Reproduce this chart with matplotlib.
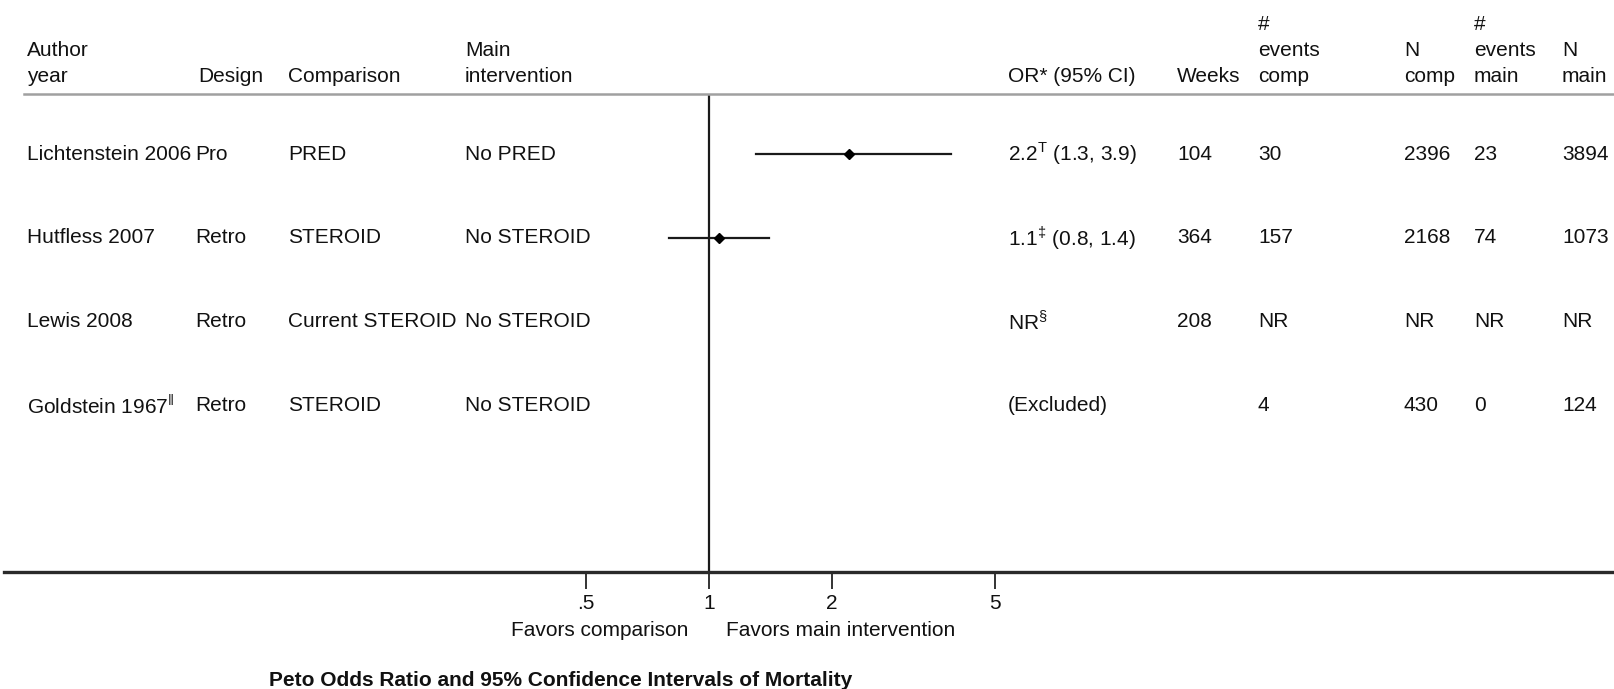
import numpy as np
import matplotlib.pyplot as plt
from matplotlib.transforms import blended_transform_factory
from matplotlib.lines import Line2D

plt.rcParams['font.family'] = ['Liberation Sans', 'DejaVu Sans']
plt.rcParams['mathtext.fontset'] = 'custom'
plt.rcParams['mathtext.rm'] = 'Liberation Sans'

# study table
authors = ["Lichtenstein 2006", "Hutfless 2007", "Lewis 2008", r"Goldstein 1967$^{\Vert}$"]
designs = ["Pro", "Retro", "Retro", "Retro"]
comparisons = ["PRED", "STEROID", "Current STEROID", "STEROID"]
mains = ["No PRED", "No STEROID", "No STEROID", "No STEROID"]
or_labels = [r"2.2$^{\mathrm{T}}$ (1.3, 3.9)", r"1.1$^{\ddag}$ (0.8, 1.4)", r"NR$^{\S}$", "(Excluded)"]
weeks = ["104", "364", "208", ""]
events_comp = ["30", "157", "NR", "4"]
n_comp = ["2396", "2168", "NR", "430"]
events_main = ["23", "74", "NR", "0"]
n_main = ["3894", "1073", "NR", "124"]

# plotted estimates (NaN = not plotted)
or_est = [2.2, 1.06, np.nan, np.nan]
or_lo = [1.3, 0.8, np.nan, np.nan]
or_hi = [3.9, 1.4, np.nan, np.nan]

ticks = [0.5, 1, 2, 5]
tick_labels = [".5", "1", "2", "5"]

W, H = 1615, 689
fig = plt.figure(figsize=(W / 100, H / 100), dpi=100)
fig.patch.set_facecolor('white')

# axes: x from px 4 to 1615, y from px 94 to 572
ax = fig.add_axes([4 / W, 1 - 572 / H, (W - 4) / W, (572 - 94) / H])
ax.set_xscale('log')
k = 177.5  # px per ln unit
ax.set_xlim(np.exp((4 - 709) / k), np.exp((1615 - 709) / k))
ax.set_ylim(4.994, -0.717)
for s in ['top', 'left', 'right']:
    ax.spines[s].set_visible(False)
ax.spines['bottom'].set_linewidth(2.4)
ax.spines['bottom'].set_color('#2a2a2a')
ax.set_yticks([])
ax.xaxis.set_minor_locator(plt.NullLocator())
ax.set_xticks(ticks)
ax.set_xticklabels(tick_labels)
ax.tick_params(axis='x', direction='out', length=12, width=1.2, pad=4,
               labelsize=15, colors='#111')
ax.axvline(1, color='#1a1a1a', lw=1.6)

rows = np.arange(len(authors))
for i in rows:
    if np.isnan(or_est[i]):
        continue
    ax.plot([or_lo[i], or_hi[i]], [i, i], color='#1a1a1a', lw=1.6)
    ax.plot(or_est[i], i, marker='D', color='black', ms=5.5)

# table text
tr = blended_transform_factory(fig.transFigure, ax.transData)
fs = 15
cols = [(27, authors), (195, designs), (288, comparisons), (465, mains),
        (1008, or_labels), (1177, weeks), (1258, events_comp),
        (1404, n_comp), (1474, events_main), (1562, n_main)]
for x, vals in cols:
    for i, v in zip(rows, vals):
        ax.text(x / W, i, v, transform=tr, ha='left', va='center',
                fontsize=fs, color='#111')

# headers
headers = [(27, ["Author", "year"]), (198, ["Design"]), (288, ["Comparison"]),
           (465, ["Main", "intervention"]), (1008, ["OR* (95% CI)"]),
           (1177, ["Weeks"]), (1258, ["#", "events", "comp"]),
           (1404, ["N", "comp"]), (1474, ["#", "events", "main"]),
           (1562, ["N", "main"])]
line_y = [25, 50.5, 76]
for x, lines in headers:
    ys = line_y[-len(lines):]
    for y, t in zip(ys, lines):
        fig.text(x / W, 1 - y / H, t, ha='left', va='center',
                 fontsize=fs, color='#111')

fig.add_artist(Line2D([24 / W, 1], [1 - 94 / H, 1 - 94 / H],
                      transform=fig.transFigure, color='#a0a0a0', lw=1.8))

fig.text(688 / W, 1 - 630 / H, "Favors comparison", ha='right', va='center',
         fontsize=fs, color='#111')
fig.text(726 / W, 1 - 630 / H, "Favors main intervention", ha='left',
         va='center', fontsize=fs, color='#111')
fig.text(561 / W, 1 - 680 / H,
         "Peto Odds Ratio and 95% Confidence Intervals of Mortality",
         ha='center', va='center', fontsize=15, fontweight='bold', color='#111')

fig.savefig('out.png', dpi=100, facecolor='white')
